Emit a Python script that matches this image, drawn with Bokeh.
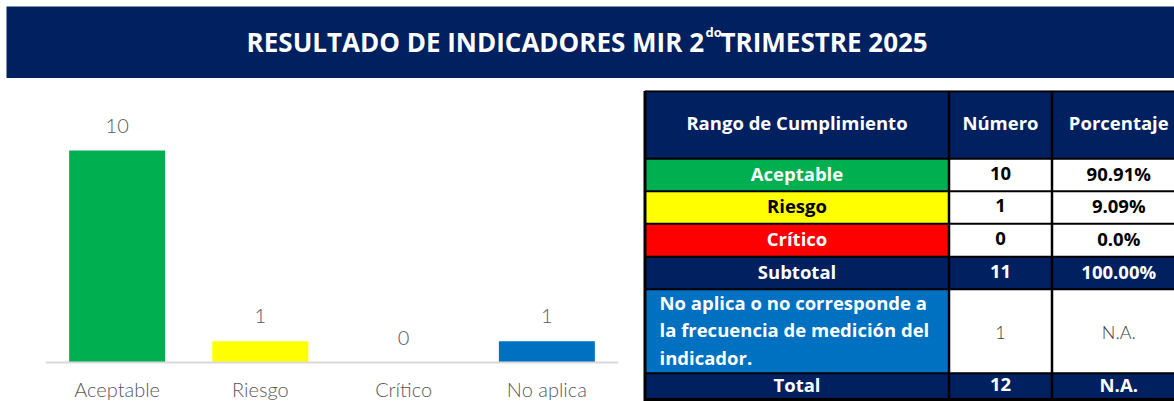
from bokeh.plotting import figure
from bokeh.embed import file_html
from bokeh.resources import INLINE
from bokeh.models import Range1d, FactorRange, Spacer, Span
from bokeh.layouts import column, row
from bokeh.core.properties import value

# ---------------- data ----------------
categories = ["Aceptable", "Riesgo", "Crítico", "No aplica"]
counts = [10, 1, 0, 1]

title_main = "RESULTADO DE INDICADORES MIR 2"
title_sup = "do"
title_end = "TRIMESTRE 2025"

table_header = ["Rango de Cumplimiento", "Número", "Porcentaje"]
table_labels = ["Aceptable", "Riesgo", "Crítico", "Subtotal",
                "No aplica o no corresponde a\nla frecuencia de medición del\nindicador.", "Total"]
table_numbers = ["10", "1", "0", "11", "1", "12"]
table_percents = ["90.91%", "9.09%", "0.0%", "100.00%", "N.A.", "N.A."]

# ---------------- styles ----------------
NAVY = "#002060"
GREEN = "#00B050"
YELLOW = "#FFFF00"
RED = "#FF0000"
BLUE = "#0070C0"
WHITE = "#FFFFFF"
bar_colors = [GREEN, YELLOW, RED, BLUE]

LIGHT = value("'Selawik Light', 'Lato Light', 'Lato', sans-serif")
BOLD = value("'Open Sans', sans-serif")
TITLE = value("'Open Sans', sans-serif")
TS = "18.5px"


def bare(p):
    p.axis.visible = False
    p.grid.visible = False
    p.outline_line_color = None


# ---------------- title banner ----------------
tfig = figure(width=1174, height=78, x_range=Range1d(0, 1174), y_range=Range1d(78, 0),
              output_backend="svg", toolbar_location=None, min_border=0,
              x_axis_location=None, y_axis_location=None)
bare(tfig)
tfig.quad(left=[6], right=[1174], top=[6], bottom=[78], fill_color=NAVY, line_color=None)
tfig.text(x=[703.5], y=[41], text=[title_main], text_align="right", text_baseline="alphabetic",
          text_font=TITLE, text_font_style="bold", text_font_size="26px", text_color=WHITE)
tfig.text(x=[705], y=[31], text=[title_sup], text_align="left", text_baseline="alphabetic",
          text_font=TITLE, text_font_style="bold", text_font_size="13px", text_color=WHITE)
tfig.text(x=[720], y=[41], text=[title_end], text_align="left", text_baseline="alphabetic",
          text_font=TITLE, text_font_style="bold", text_font_size="26px", text_color=WHITE)

# ---------------- bar chart ----------------
px_per_unit = 21.2
above_px, below_px = 272, 39
bar = figure(width=636, height=311, x_range=FactorRange(*categories),
             y_range=Range1d(-below_px / px_per_unit, above_px / px_per_unit),
             output_backend="svg", toolbar_location=None,
             x_axis_location=None, y_axis_location=None,
             min_border_left=45, min_border_right=18, min_border_top=0, min_border_bottom=0)
bar.grid.visible = False
bar.outline_line_color = None
bar.vbar(x=categories, top=counts, width=0.67, fill_color=bar_colors, line_color=None)
bar.add_layout(Span(location=0, dimension="width", line_color="#D9D9D9", line_width=2))
bar.text(x=categories, y=counts, text=[str(c) for c in counts], text_align="center",
         text_baseline="alphabetic", y_offset=-25, text_font=LIGHT, text_font_size="20px",
         text_color="#595959")
bar.text(x=categories, y=[0] * len(categories), text=categories, text_align="center",
         text_baseline="alphabetic", y_offset=26, text_font=LIGHT, text_font_size="20px",
         text_color="#595959")

# ---------------- table ----------------
col_edges = [644.5, 948.5, 1051.5, 1185]
row_edges = [90.3, 158.3, 190.8, 223.3, 256.3, 288.7, 372.8, 398.5]
row_fills = [
    [NAVY, NAVY, NAVY],
    [GREEN, WHITE, WHITE],
    [YELLOW, WHITE, WHITE],
    [RED, WHITE, WHITE],
    [NAVY, NAVY, NAVY],
    [BLUE, WHITE, WHITE],
    [NAVY, NAVY, NAVY],
]
label_colors = ["white", "black", "white", "white", "white", "white"]
value_colors = ["black", "black", "black", "white", "#404040", "white"]

tbl = figure(width=538, height=311, x_range=Range1d(636, 1174), y_range=Range1d(401, 90),
             output_backend="svg", toolbar_location=None, min_border=0,
             x_axis_location=None, y_axis_location=None)
bare(tbl)

L, R, T, B, C = [], [], [], [], []
for i in range(len(row_edges) - 1):
    for j in range(3):
        L.append(col_edges[j]); R.append(col_edges[j + 1])
        T.append(row_edges[i]); B.append(row_edges[i + 1])
        C.append(row_fills[i][j])
tbl.quad(left=L, right=R, top=T, bottom=B, fill_color=C, line_color=None)

for k, y in enumerate(row_edges):
    hw = 3 if k == 0 else 2
    tbl.segment(x0=[col_edges[0]], y0=[y], x1=[1185], y1=[y], line_color="black", line_width=hw)
for k, x in enumerate(col_edges[:3]):
    vw = 3 if k == 0 else 2.5
    tbl.segment(x0=[x], y0=[row_edges[0]], x1=[x], y1=[401], line_color="black", line_width=vw)
tbl.quad(left=[col_edges[0]], right=[1185], top=[row_edges[-1]], bottom=[401],
         fill_color="black", line_color=None)

ccx = [(col_edges[j] + col_edges[j + 1]) / 2 for j in range(3)]
hy = (row_edges[0] + row_edges[1]) / 2
tbl.text(x=ccx, y=[hy - 2] * 3, text=table_header, text_align="center", text_baseline="middle",
         text_font=BOLD, text_font_style="bold", text_font_size=TS, text_color="white")

rcy = [(row_edges[i + 1] + row_edges[i + 2]) / 2 - 2 for i in range(len(table_labels))]
single = [i for i, t in enumerate(table_labels) if "\n" not in t]
tbl.text(x=[ccx[0]] * len(single), y=[rcy[i] for i in single], text=[table_labels[i] for i in single],
         text_align="center", text_baseline="middle", text_font=BOLD, text_font_style="bold",
         text_font_size=TS, text_color=[label_colors[i] for i in single])
for i, t in enumerate(table_labels):
    if "\n" in t:
        lines = t.split("\n")
        base0 = row_edges[i + 1] + 13
        tbl.text(x=[659] * len(lines), y=[base0 + 27.5 * k for k in range(len(lines))], text=lines,
                 text_align="left", text_baseline="alphabetic", text_font=BOLD, text_font_style="bold",
                 text_font_size=TS, text_color=label_colors[i])

bold_rows = [i for i in range(len(table_numbers)) if "\n" not in table_labels[i]]
light_rows = [i for i in range(len(table_numbers)) if "\n" in table_labels[i]]
for col, vals in ((1, table_numbers), (2, table_percents)):
    tbl.text(x=[ccx[col]] * len(bold_rows), y=[rcy[i] for i in bold_rows], text=[vals[i] for i in bold_rows],
             text_align="center", text_baseline="middle", text_font=BOLD, text_font_style="bold",
             text_font_size=TS, text_color=[value_colors[i] for i in bold_rows])
    tbl.text(x=[ccx[col]] * len(light_rows), y=[rcy[i] + 3 for i in light_rows], text=[vals[i] for i in light_rows],
             text_align="center", text_baseline="middle", text_font=LIGHT,
             text_font_size="18px", text_color=[value_colors[i] for i in light_rows])

layout = column(tfig, Spacer(width=1174, height=12), row(bar, tbl))
open("out.html", "w").write(file_html(layout, INLINE))
